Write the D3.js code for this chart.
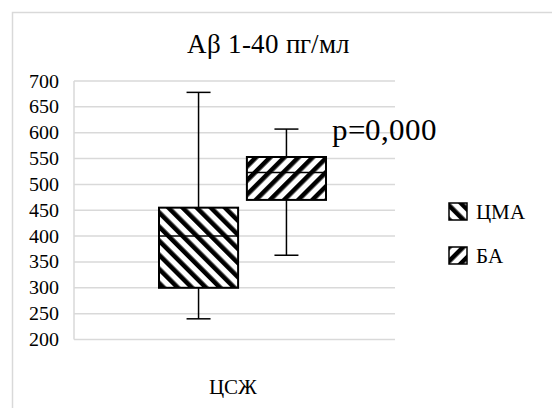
<!DOCTYPE html>
<html>
<head>
<meta charset="utf-8">
<script src="https://cdn.jsdelivr.net/npm/d3@7"></script>
<style>
  @font-face { font-family: "ChartSerif"; src: local("Liberation Serif"), local("LiberationSerif"), local("Times New Roman"); }
</style>
</head>
<body style="margin:0">
<svg id="s" width="552" height="408"></svg>
<script>
// Aβ 1-40 in CSF, two groups
const categories = ["ЦСЖ"];
const seriesNames = ["ЦМА", "БА"];
const seriesMin    = [240, 363];
const seriesQ1     = [300, 470];
const seriesMedian = [400, 523];
const seriesQ3     = [455, 553];
const seriesMax    = [678, 607];
const yTicks = [200, 250, 300, 350, 400, 450, 500, 550, 600, 650, 700];
const titleText = "Aβ 1-40 пг/мл";
const pValueText = "p=0,000";

const FONT = "ChartSerif, 'Liberation Serif'";

const boxes = seriesNames.map((name, i) => ({
  name, min: seriesMin[i], q1: seriesQ1[i], median: seriesMedian[i],
  q3: seriesQ3[i], max: seriesMax[i]
}));

const svg = d3.select("#s").attr("font-family", FONT);
const plot = { left: 74, right: 395, top: 81, bottom: 339.5 };
const gridColor = "#d9d9d9";

// text helper: serif face set directly on every label
function label(parent, str, x, y, size, anchor) {
  return parent.append("text")
    .attr("x", x).attr("y", y)
    .attr("font-family", FONT).attr("font-size", size)
    .attr("text-anchor", anchor || "start")
    .text(str);
}

// chart area frame
svg.append("rect")
  .attr("x", 12.5).attr("y", 12.5)
  .attr("width", 600).attr("height", 500)
  .attr("fill", "none").attr("stroke", gridColor).attr("stroke-width", 1.5);

// hatch fills: "\" for ЦМА, "/" for БА
const defs = svg.append("defs");
const hatchAngles = [-45, 45];
seriesNames.forEach((name, i) => {
  const p = defs.append("pattern")
    .attr("id", "hatch" + i)
    .attr("patternUnits", "userSpaceOnUse")
    .attr("width", 10).attr("height", 10)
    .attr("patternTransform", `rotate(${hatchAngles[i]})`);
  p.append("rect").attr("width", 10).attr("height", 10).attr("fill", "#fff");
  p.append("rect").attr("x", 0).attr("width", 4.6).attr("height", 10).attr("fill", "#000");
});

const y = d3.scaleLinear().domain([200, 700]).range([plot.bottom, plot.top]);
const x = d3.scaleBand().domain(categories).range([plot.left, plot.right]).padding(0);
const xs = d3.scaleBand().domain(seriesNames)
  .range([x(categories[0]) + 85, x(categories[0]) + 252])
  .paddingInner(0.1);

// gridlines
svg.append("g").selectAll("line").data(yTicks).join("line")
  .attr("x1", plot.left).attr("x2", plot.right)
  .attr("y1", d => y(d)).attr("y2", d => y(d))
  .attr("stroke", gridColor).attr("stroke-width", 1.5);

// vertical axis line
svg.append("line")
  .attr("x1", plot.left).attr("x2", plot.left)
  .attr("y1", y(700)).attr("y2", y(200))
  .attr("stroke", gridColor).attr("stroke-width", 1.5);

// y tick labels, placed with the y scale
const gy = svg.append("g");
yTicks.forEach(t => {
  label(gy, String(t), plot.left - 15, y(t) + 6.5, 20, "end");
});

// box plots
const g = svg.append("g");
boxes.forEach((b, i) => {
  const x0 = xs(b.name), w = xs.bandwidth(), cx = x0 + w / 2;
  const capHalf = 12;
  // whiskers
  g.append("line").attr("x1", cx).attr("x2", cx)
    .attr("y1", y(b.q3)).attr("y2", y(b.max))
    .attr("stroke", "#000").attr("stroke-width", 1.5);
  g.append("line").attr("x1", cx).attr("x2", cx)
    .attr("y1", y(b.q1)).attr("y2", y(b.min))
    .attr("stroke", "#000").attr("stroke-width", 1.5);
  g.append("line").attr("x1", cx - capHalf).attr("x2", cx + capHalf)
    .attr("y1", y(b.max)).attr("y2", y(b.max))
    .attr("stroke", "#000").attr("stroke-width", 1.5);
  g.append("line").attr("x1", cx - capHalf).attr("x2", cx + capHalf)
    .attr("y1", y(b.min)).attr("y2", y(b.min))
    .attr("stroke", "#000").attr("stroke-width", 1.5);
  // box
  g.append("rect")
    .attr("x", x0).attr("y", y(b.q3))
    .attr("width", w).attr("height", y(b.q1) - y(b.q3))
    .attr("fill", `url(#hatch${i})`)
    .attr("stroke", "#000").attr("stroke-width", 2);
  // median
  g.append("line").attr("x1", x0).attr("x2", x0 + w)
    .attr("y1", y(b.median)).attr("y2", y(b.median))
    .attr("stroke", "#000").attr("stroke-width", 1.5);
});

// title
label(svg, titleText, 268, 53, 27, "middle");

// p-value annotation
label(svg, pValueText, 332, 140, 31);

// category label
label(svg, categories[0], x(categories[0]) + x.bandwidth() / 2 - 2, 394, 21, "middle");

// legend
const legend = svg.append("g");
seriesNames.forEach((name, i) => {
  const ly = 203 + i * 44;
  legend.append("rect")
    .attr("x", 449).attr("y", ly)
    .attr("width", 18).attr("height", 17)
    .attr("fill", `url(#hatch${i})`)
    .attr("stroke", "#000").attr("stroke-width", 1.5);
  label(legend, name, 476, ly + 16, 21);
});
</script>
</body>
</html>
